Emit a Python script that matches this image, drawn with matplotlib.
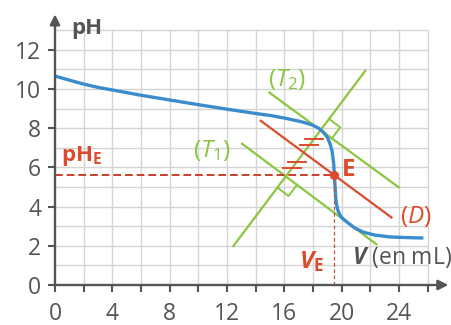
import numpy as np
import matplotlib
matplotlib.use('Agg')
import matplotlib.pyplot as plt

plt.rcParams['font.family'] = ['Open Sans', 'DejaVu Sans']
plt.rcParams['mathtext.fontset'] = 'custom'
plt.rcParams['mathtext.rm'] = 'Open Sans'
plt.rcParams['mathtext.it'] = 'Open Sans:italic'
plt.rcParams['mathtext.bf'] = 'Open Sans:bold'
plt.rcParams['mathtext.bfit'] = 'Open Sans:italic:bold'
plt.rcParams['mathtext.default'] = 'regular'

# ---- data ----
V = [0, 1, 2, 3, 4, 6, 8, 10, 12, 14, 15, 16, 17, 17.5, 18, 18.4, 18.7, 19.0,
     19.2, 19.35, 19.45, 19.5, 19.55, 19.6, 19.65, 19.75, 19.9, 20.1, 20.4,
     20.9, 21.5, 22.3, 23.4, 24.5, 25.6]
pH = [10.66, 10.45, 10.25, 10.08, 9.95, 9.68, 9.44, 9.2, 8.97, 8.75, 8.65,
      8.52, 8.36, 8.27, 8.15, 8.0, 7.82, 7.55, 7.2, 6.8, 6.2, 5.6, 5.0, 4.4,
      4.1, 3.8, 3.55, 3.38, 3.2, 2.92, 2.7, 2.55, 2.45, 2.42, 2.4]

x_ticks = list(range(0, 27, 2))
x_labels = ['0', '', '4', '', '8', '', '12', '', '16', '', '20', '', '24', '']
y_ticks = [0, 2, 4, 6, 8, 10, 12]
y_labels = ['0', '2', '4', '6', '8', '10', '12']

T1_V = [13.0, 22.5]
T1_pH = [7.24, 2.04]
T2_V = [14.9, 24.05]
T2_pH = [9.85, 4.95]
D_V = [14.3, 23.55]
D_pH = [8.41, 3.41]
perp_V = [12.4, 21.7]
perp_pH = [1.94, 10.97]
E_V = 19.5
E_pH = 5.6

BLUE = '#3b8ccc'
GREEN = '#8cc63f'
RED = '#dd4b2d'
DRED = '#c8402a'
GRAY = '#555555'
GRID = '#d4d4d4'

fig = plt.figure(figsize=(4.52, 3.25), dpi=100)
ax = fig.add_axes([55 / 452, 40 / 325, 394 / 452, 270.5 / 325])
ax.set_xlim(0, 27.5)
ax.set_ylim(0, 13.8)
for s in ax.spines.values():
    s.set_visible(False)

# grid
ax.vlines(np.arange(2, 27, 2), 0, 13, color=GRID, lw=1.0, zorder=0)
ax.hlines(np.arange(1, 14, 1), 0, 26, color=GRID, lw=1.0, zorder=0)

# axes with arrows
ax.plot([0, 0], [0, 13.2], color=GRAY, lw=1.7, clip_on=False, zorder=5)
ax.plot([0, 27.0], [0, 0], color=GRAY, lw=1.7, clip_on=False, zorder=5)
ax.annotate('', xy=(0, 13.95), xytext=(0, 13.0),
            arrowprops=dict(arrowstyle='-|>', color=GRAY, lw=1.7, mutation_scale=15),
            annotation_clip=False, zorder=5)
ax.annotate('', xy=(27.65, 0), xytext=(26.6, 0),
            arrowprops=dict(arrowstyle='-|>', color=GRAY, lw=1.7, mutation_scale=15),
            annotation_clip=False, zorder=5)

ax.set_xticks(x_ticks)
ax.set_xticklabels(x_labels)
ax.set_yticks(y_ticks)
ax.set_yticklabels(y_labels)
ax.tick_params(axis='both', colors=GRAY, width=1.5, length=5, labelsize=16.5)
ax.tick_params(axis='x', pad=7)
ax.tick_params(axis='y', pad=5)

# curve and constructions
ax.plot(T1_V, T1_pH, color=GREEN, lw=1.6, zorder=2, solid_capstyle='butt')
ax.plot(T2_V, T2_pH, color=GREEN, lw=1.6, zorder=2, solid_capstyle='butt')
ax.plot(perp_V, perp_pH, color=GREEN, lw=1.6, zorder=2, solid_capstyle='butt')
ax.plot(V, pH, color=BLUE, lw=2.4, zorder=3)
ax.plot(D_V, D_pH, color=RED, lw=1.6, zorder=4, solid_capstyle='butt')

# dashed guides
ax.plot([0, E_V], [E_pH, E_pH], color=DRED, lw=1.4, ls=(0, (4, 2)), zorder=4)
ax.plot([E_V, E_V], [0, E_pH], color='#b55a44', lw=0.9, ls=(0, (3, 2)), zorder=4)
ax.plot([E_V], [E_pH], 'o', color=RED, ms=5.5, zorder=6)


def inter(a, b):
    (x1, x2), (y1, y2) = a
    (x3, x4), (y3, y4) = b
    m1 = (y2 - y1) / (x2 - x1)
    m2 = (y4 - y3) / (x4 - x3)
    x = (y3 - y1 + m1 * x1 - m2 * x3) / (m1 - m2)
    return np.array([x, y1 + m1 * (x - x1)])


P2 = inter((T2_V, T2_pH), (perp_V, perp_pH))
P1 = inter((T1_V, T1_pH), (perp_V, perp_pH))

tr = ax.transData
inv = tr.inverted()
d2 = tr.transform(P2)
d1 = tr.transform(P1)
u_perp = tr.transform((perp_V[1], perp_pH[1])) - tr.transform((perp_V[0], perp_pH[0]))
u_perp /= np.linalg.norm(u_perp)
u_tan = np.array([u_perp[1], -u_perp[0]])  # down-right along tangents

side = 14
for base, a, b in [(d2, u_perp, u_tan), (d1, -u_perp, u_tan)]:
    pts = [base + a * side, base + a * side + b * side, base + b * side]
    dpts = inv.transform(np.array(pts))
    ax.plot(dpts[:, 0], dpts[:, 1], color=GREEN, lw=1.4, zorder=2)

# equal-segment hash marks
mid = (d1 + d2) / 2
for q in [(d2 + mid) / 2, (d1 + mid) / 2]:
    for dy in (-3.2, 3.2):
        c = q + u_perp * (dy / u_perp[1])
        seg = inv.transform(np.array([c + [-9, 0], c + [9, 0]]))
        ax.plot(seg[:, 0], seg[:, 1], color=RED, lw=1.4, zorder=5)

# texts
ax.text(1.1, 13.1, 'pH', color=GRAY, fontsize=16, fontweight='bold',
        va='center', ha='left')
ax.text(0.4, 6.6, r'pH$_E$', color=RED, fontsize=16, fontweight='bold',
        va='center', ha='left')
ax.text(9.6, 6.85, r'($\mathit{T}_1$)', color=GREEN, fontsize=17.5,
        va='center', ha='left')
ax.text(14.9, 10.5, r'($\mathit{T}_2$)', color=GREEN, fontsize=17.5,
        va='center', ha='left')
ax.text(20.0, 5.85, 'E', color=RED, fontsize=17.5, fontweight='bold',
        va='center', ha='left')
ax.text(24.1, 3.5, r'($\mathit{D}$)', color=RED, fontsize=17.5,
        va='center', ha='left')
ax.text(17.0, 1.2, r'$\mathbfit{V}_E$', color=RED, fontsize=17.5,
        fontweight='bold', va='center', ha='left')
ax.text(20.7, 1.4, r'$\mathbfit{V}$ (en mL)', color=GRAY, fontsize=16.5,
        va='center', ha='left')

fig.savefig('out.png', dpi=100, facecolor='white')
